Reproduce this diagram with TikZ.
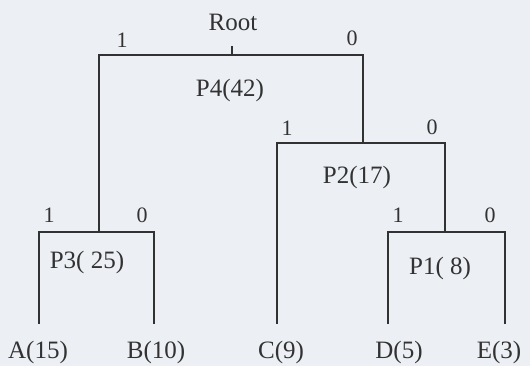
\documentclass[tikz,border=0pt]{standalone}
\usepackage{fontspec}
\setmainfont{Liberation Serif}
\definecolor{paper}{RGB}{236,239,244}
\definecolor{ink}{RGB}{50,50,50}
\tikzset{
  lbl/.style={inner sep=0pt, text=ink, font=\fontsize{25}{27}\selectfont},
  bit/.style={inner sep=0pt, text=ink, font=\fontsize{22}{24}\selectfont},
  edge/.style={draw=ink, line width=1.9pt, line cap=rect}
}
\begin{document}
\begin{tikzpicture}[x=1pt,y=-1pt]
\fill[paper] (0,0) rectangle (530,366);
\useasboundingbox (0,0) rectangle (530,366);
% junction coordinates
\coordinate (rootTop) at (232,47);
\coordinate (rootJ) at (232,55);
\coordinate (p4L) at (99,55);
\coordinate (p4R) at (363,55);
\coordinate (p3J) at (99,232);
\coordinate (p3L) at (39,232);
\coordinate (p3R) at (154,232);
\coordinate (aEnd) at (39,323);
\coordinate (bEnd) at (154,323);
\coordinate (p2J) at (363,143);
\coordinate (p2L) at (277,143);
\coordinate (p2R) at (445,143);
\coordinate (cEnd) at (277,323);
\coordinate (p1J) at (445,232);
\coordinate (p1L) at (388,232);
\coordinate (p1R) at (505,232);
\coordinate (dEnd) at (388,323);
\coordinate (eEnd) at (505,323);
% labels
\node[lbl] (root) at (233,22) {Root};
\node[lbl] (p4) at (230,90) {P4(42)};
\node[lbl] (p2) at (357,177) {P2(17)};
\node[lbl] (p3) at (87,262) {P3( 25)};
\node[lbl] (p1) at (440,268) {P1( 8)};
\node[lbl] (a) at (38,352) {A(15)};
\node[lbl] (b) at (156,352) {B(10)};
\node[lbl] (c) at (281,352) {C(9)};
\node[lbl] (d) at (399,352) {D(5)};
\node[lbl] (e) at (499,352) {E(3)};
\node[bit] (r1) at (122,40) {1};
\node[bit] (r0) at (352,38) {0};
\node[bit] (q1) at (287,128) {1};
\node[bit] (q0) at (432,127) {0};
\node[bit] (s1) at (49,215) {1};
\node[bit] (s0) at (142,215) {0};
\node[bit] (t1) at (398,215) {1};
\node[bit] (t0) at (490,215) {0};
% tree
\draw[edge] (rootTop) -- (rootJ);
\draw[edge] (p3J) -- (p4L) -- (p4R) -- (p2J);
\draw[edge] (aEnd) -- (p3L) -- (p3R) -- (bEnd);
\draw[edge] (cEnd) -- (p2L) -- (p2R) -- (p1J);
\draw[edge] (dEnd) -- (p1L) -- (p1R) -- (eEnd);
\end{tikzpicture}
\end{document}
